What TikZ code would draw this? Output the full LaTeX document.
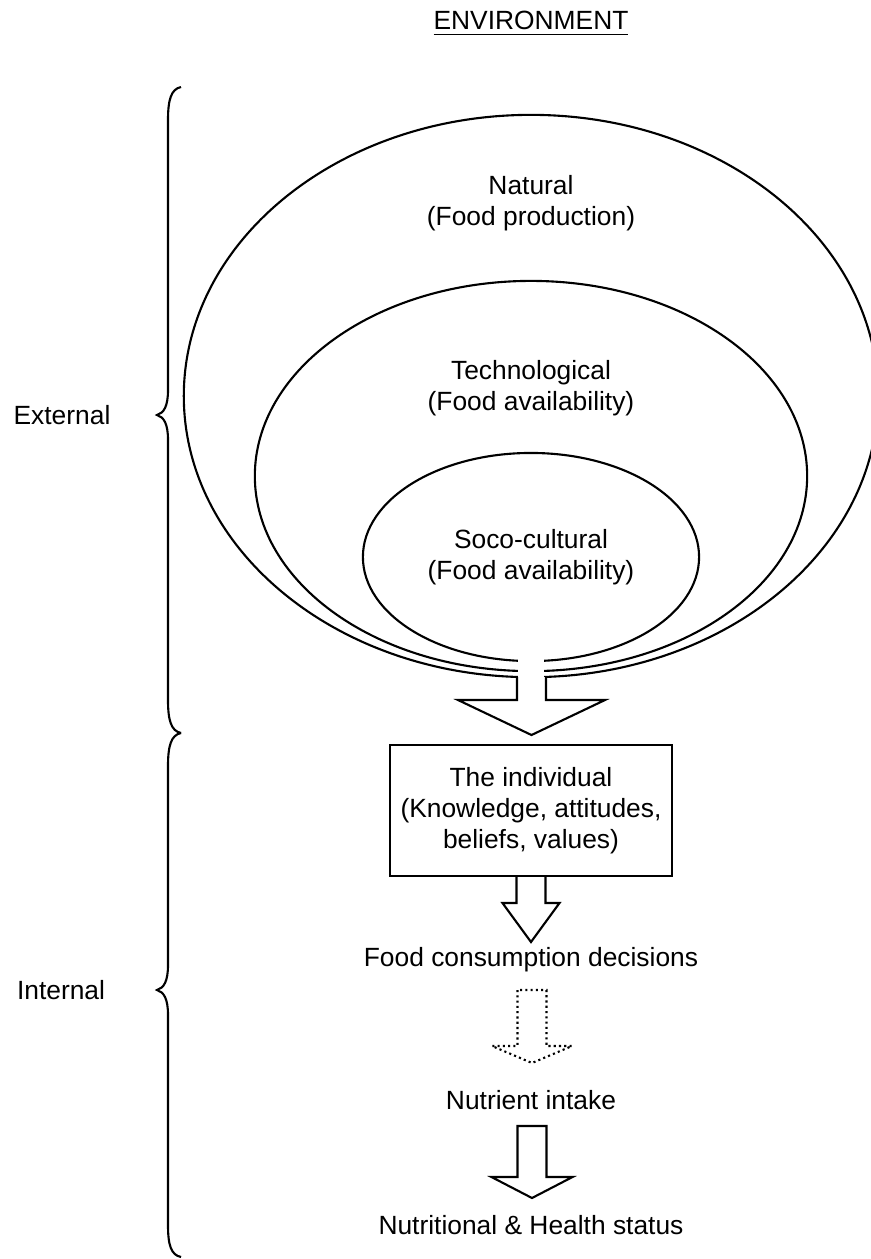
\documentclass[tikz,border=0pt]{standalone}
\usepackage{fontspec}
\setmainfont{Liberation Sans}
\usetikzlibrary{shapes.geometric,calc}

% block arrow: [style]{from}{to}{head half width}{head length}{end}
\newcommand{\fatarrow}[6][]{%
  \draw[fat,#1] ($(#2)+(-14.5,0)$) -- ($(#3)+(-14.5,-#5)$) -- ($(#3)+(-#4,-#5)$) -- (#3)
    -- ($(#3)+(#4,-#5)$) -- ($(#3)+(14.5,-#5)$) -- ($(#2)+(14.5,0)$) #6;}

\begin{document}
\begin{tikzpicture}[x=0.01cm,y=-0.01cm,line width=0.6pt,
  every node/.style={font=\fontsize{7.5}{8.8}\selectfont,inner sep=0pt},
  ring/.style={draw,ellipse,inner sep=0pt},
  fat/.style={line join=miter,fill=white},
  box/.style={draw,rectangle,align=center,minimum width=2.82cm,minimum height=1.31cm}]

\useasboundingbox (0,0) rectangle (871,1259);
\clip (0,0) rectangle (871,1259);

\node (env) at (531,24) {\underline{ENVIRONMENT}};

% the three rings
\node[ring,minimum width=6.94cm,minimum height=5.62cm] (natural) at (531,396) {};
\node[ring,minimum width=5.52cm,minimum height=3.90cm] (techno) at (531,476) {};
\node[ring,minimum width=3.36cm,minimum height=2.08cm,align=center] (socio) at (531,557) {Soco-cultural\\(Food availability)};
\node[align=center] (naturaltxt) at (531,203) {Natural\\(Food production)};
\node[align=center] (technotxt) at (531,388) {Technological\\(Food availability)};

% opening in the rings for the arrow
\fill[white] (518.5,645) rectangle (544.5,680);
\coordinate (gap) at (531.5,677);
\coordinate (tip1) at (531.5,735);
\fatarrow{gap}{tip1}{73.5}{35}{}

\node[box] (indiv) at (531,810.5) {The individual\\(Knowledge, attitudes,\\beliefs, values)};
\coordinate (tip2) at (531,942);
\fatarrow{indiv.south}{tip2}{28.5}{39}{}

\node (cons) at (531,960) {Food consumption decisions};
\coordinate (top3) at (532,990);
\coordinate (tip3) at (532,1063);
\fatarrow[dash pattern=on 0.6pt off 0.9pt]{top3}{tip3}{40}{17}{-- cycle}

\node (intake) at (531,1100) {Nutrient intake};
\coordinate (top4) at (532,1126);
\coordinate (tip4) at (532,1198);
\fatarrow{top4}{tip4}{40.5}{21}{-- cycle}

\node (status) at (531,1225) {Nutritional \& Health status};

% braces
\node (ext) at (62,415) {External};
\node (int) at (61,990) {Internal};
\draw (181,87) .. controls (171,89) and (168,100) .. (168,120) -- (168,390)
  .. controls (168,406) and (164,413) .. (157,415) .. controls (164,417) and (168,424) .. (168,440)
  -- (168,700) .. controls (168,720) and (171,731) .. (181,733);
\draw (181,733) .. controls (171,735) and (168,746) .. (168,766) -- (168,965)
  .. controls (168,981) and (164,988) .. (157,990) .. controls (164,992) and (168,999) .. (168,1015)
  -- (168,1225) .. controls (168,1245) and (171,1255) .. (181,1257);
\end{tikzpicture}
\end{document}
